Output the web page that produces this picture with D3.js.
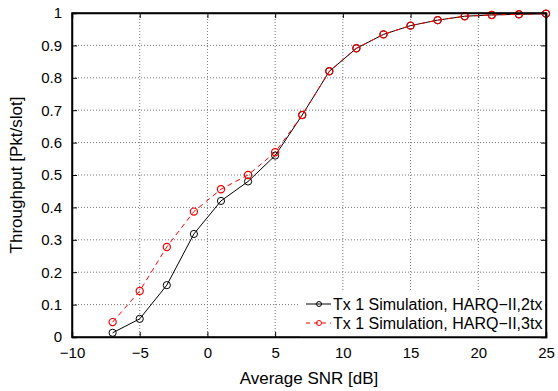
<!DOCTYPE html>
<html lang="en">
<head>
<meta charset="UTF-8">
<title>Throughput vs SNR</title>
<style>
  body { margin: 0; background: #fff; }
  svg { font-family: "Liberation Sans", Arial, sans-serif; }
</style>
</head>
<body>
<div id="chart"></div>
<script src="https://d3js.org/d3.v7.min.js"></script>
<script>
// data
var snr = [-7, -5, -3, -1, 1, 3, 5, 7, 9, 11, 13, 15, 17, 19, 21, 23, 25]
var tput2tx = [0.013, 0.056, 0.16, 0.318, 0.42, 0.48, 0.56, 0.685, 0.82, 0.891, 0.934, 0.961, 0.978, 0.99, 0.994, 0.996, 0.998]
var tput3tx = [0.046, 0.142, 0.278, 0.387, 0.456, 0.50, 0.57, 0.685, 0.82, 0.891, 0.934, 0.961, 0.978, 0.99, 0.994, 0.996, 0.998]
var xTicks = [-10, -5, 0, 5, 10, 15, 20, 25]
var yTicks = [0, 0.1, 0.2, 0.3, 0.4, 0.5, 0.6, 0.7, 0.8, 0.9, 1]
var seriesNames = ['Tx 1 Simulation, HARQ\u2212II,2tx', 'Tx 1 Simulation, HARQ\u2212II,3tx']

var W = 558, H = 391
var m = {left: 72, right: 12, top: 13, bottom: 54}
var iw = W - m.left - m.right, ih = H - m.top - m.bottom

var svg = d3.select('#chart').append('svg')
  .attr('width', W).attr('height', H)

var x = d3.scaleLinear().domain([-10, 25]).range([0, iw])
var y = d3.scaleLinear().domain([0, 1]).range([ih, 0])

var g = svg.append('g').attr('transform', 'translate(' + m.left + ',' + m.top + ')')

// grid
g.append('g').selectAll('line').data(xTicks.slice(1, -1)).enter().append('line')
  .attr('x1', d => x(d)).attr('x2', d => x(d)).attr('y1', 0).attr('y2', ih)
  .style('stroke', '#777').style('stroke-width', 1).style('stroke-dasharray', '1,2')
g.append('g').selectAll('line').data(yTicks.slice(1, -1)).enter().append('line')
  .attr('y1', d => y(d)).attr('y2', d => y(d)).attr('x1', 0).attr('x2', iw)
  .style('stroke', '#777').style('stroke-width', 1).style('stroke-dasharray', '1,2')

// axes with inward ticks
var fmt = d => d < 0 ? '\u2212' + Math.abs(d) : String(d)
g.append('g').attr('transform', 'translate(0,' + ih + ')')
  .call(d3.axisBottom(x).tickValues(xTicks).tickSize(-5).tickPadding(10).tickFormat(fmt))
g.append('g')
  .call(d3.axisLeft(y).tickValues(yTicks).tickSize(-5).tickPadding(10).tickFormat(d3.format('~g')))
g.append('g').call(d3.axisTop(x).tickValues(xTicks).tickSize(-5).tickFormat(''))
g.append('g').attr('transform', 'translate(' + iw + ',0)')
  .call(d3.axisRight(y).tickValues(yTicks).tickSize(-5).tickFormat(''))
g.selectAll('.domain').style('stroke', '#000').style('stroke-width', 1.5)
g.selectAll('.tick line').style('stroke', '#000')
g.selectAll('.tick text').style('font-size', '15px').style('fill', '#000')
  .style('font-family', '"Liberation Sans", Arial, sans-serif')

// lines
var line = d3.line().x(d => x(d[0])).y(d => y(d[1]))
var s2 = snr.map((v, i) => [v, tput2tx[i]])
var s3 = snr.map((v, i) => [v, tput3tx[i]])

g.append('path').datum(s2).attr('d', line)
  .style('fill', 'none').style('stroke', '#000').style('stroke-width', 1)
g.selectAll('.m2').data(s2).enter().append('circle').attr('class', 'm2')
  .attr('cx', d => x(d[0])).attr('cy', d => y(d[1])).attr('r', 3.6)
  .style('fill', 'none').style('stroke', '#000').style('stroke-width', 1)

g.append('path').datum(s3).attr('d', line)
  .style('fill', 'none').style('stroke', '#f00').style('stroke-width', 1)
  .style('stroke-dasharray', '5,4')
g.selectAll('.m3').data(s3).enter().append('circle').attr('class', 'm3')
  .attr('cx', d => x(d[0])).attr('cy', d => y(d[1])).attr('r', 3.6)
  .style('fill', 'none').style('stroke', '#e00').style('stroke-width', 1.2)

// legend
var lg = g.append('g').attr('transform', 'translate(' + (300 - m.left) + ',' + (291 - m.top) + ')')
lg.append('rect').attr('width', 245).attr('height', 46).style('fill', '#fff')
var items = [
  {name: seriesNames[0], color: '#000', dash: null},
  {name: seriesNames[1], color: '#f00', dash: '4,4'}
]
items.forEach(function (it, i) {
  var yy = 13 + i * 19
  lg.append('line').attr('x1', 6).attr('x2', 31).attr('y1', yy).attr('y2', yy)
    .style('stroke', it.color).style('stroke-width', 1).style('stroke-dasharray', it.dash)
  lg.append('circle').attr('cx', 19).attr('cy', yy).attr('r', 2.5)
    .style('fill', 'none').style('stroke', it.color).style('stroke-width', 1)
  lg.append('text').attr('x', 33).attr('y', yy).attr('dy', '0.35em')
    .text(it.name).style('font-size', '16px')
})
// redraw frame over legend
g.append('rect').attr('width', iw).attr('height', ih)
  .style('fill', 'none').style('stroke', '#000').style('stroke-width', 1.5)

// axis labels
svg.append('text').attr('x', m.left + iw / 2).attr('y', 384)
  .attr('text-anchor', 'middle').style('font-size', '17px').text('Average SNR [dB]')
svg.append('text').attr('transform', 'translate(22,' + (m.top + ih / 2) + ') rotate(-90)')
  .attr('text-anchor', 'middle').style('font-size', '17px').text('Throughput [Pkt/slot]')
</script>
</body>
</html>
